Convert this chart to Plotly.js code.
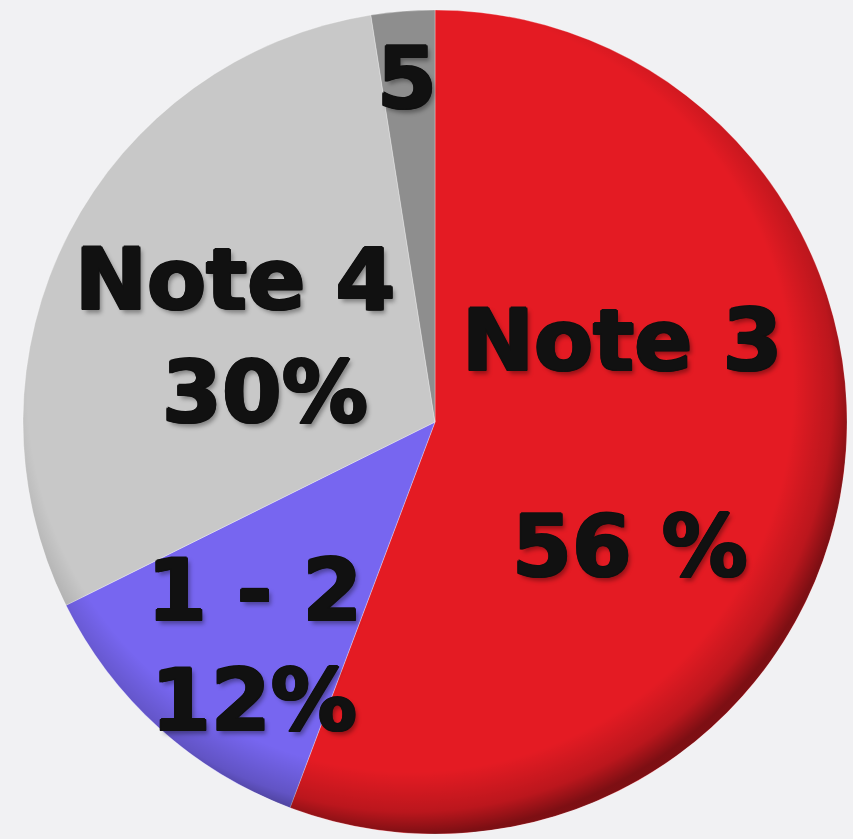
<!DOCTYPE html>
<html>
<head>
<meta charset="utf-8">
<script src="https://cdn.plot.ly/plotly-3.0.1.min.js"></script>
<style>
html,body{margin:0;padding:0;background:#f1f1f3;}
#chart{width:853px;height:839px;}
</style>
</head>
<body>
<div id="chart"></div>
<script>
const categories = ["Note 3", "1 - 2", "Note 4", "5"];
const values = [56, 12, 30, 2.5];
const labelLines = [["Note 3", "56 %"], ["1 - 2", "12%"], ["Note 4", "30%"], ["5"]];
const colors = ["#e41b23", "#7766f0", "#c8c8c8", "#8e8e8e"];

const W = 853, H = 839;
const cx = 435, cy = 422, R = 412;

// label placement (pixel centres) for each text line
const labelPos = [
  [[622, 340], [630, 546]],
  [[254, 590], [254, 700]],
  [[235, 279], [265, 392]],
  [[407, 78]]
];

const heavy = "1.2px 0 0 #111, -1.2px 0 0 #111, 0 1.2px 0 #111, 0 -1px 0 #111, 1.2px 1.2px 0 #111, -1.2px 1.2px 0 #111, 3px 4px 4px rgba(0,0,0,0.35)";

const annotations = [];
labelLines.forEach((lines, i) => {
  lines.forEach((t, j) => {
    const p = labelPos[i][j];
    annotations.push({
      text: t, xref: "paper", yref: "paper",
      x: p[0] / W, y: 1 - p[1] / H,
      xanchor: "center", yanchor: "middle", showarrow: false,
      font: {family: "DejaVu Sans, Roboto, sans-serif", size: 86, weight: "bold", color: "#111",
             shadow: heavy}
    });
  });
});

const trace = {
  type: "pie",
  labels: categories,
  values: values,
  sort: false,
  direction: "clockwise",
  rotation: 0,
  textinfo: "none",
  hoverinfo: "label+percent",
  marker: {colors: colors, line: {color: "rgba(255,255,255,0.3)", width: 1}},
  domain: {x: [(cx - R) / W, (cx + R) / W], y: [(H - cy - R) / H, (H - cy + R) / H]},
  showlegend: false
};

// soft bevel overlay (decorative shading of the disc rim)
const svg = '<svg xmlns="http://www.w3.org/2000/svg" width="824" height="824" viewBox="0 0 824 824">' +
  '<defs><radialGradient id="g" cx="0.47" cy="0.46" r="0.54">' +
  '<stop offset="0.86" stop-color="#000" stop-opacity="0"/>' +
  '<stop offset="0.95" stop-color="#000" stop-opacity="0.18"/>' +
  '<stop offset="1" stop-color="#000" stop-opacity="0.45"/></radialGradient>' +
  '<clipPath id="c"><circle cx="412" cy="412" r="412"/></clipPath></defs>' +
  '<circle cx="412" cy="412" r="412" fill="url(#g)" clip-path="url(#c)"/></svg>';

Plotly.newPlot("chart", [trace], {
  width: W, height: H,
  margin: {l: 0, r: 0, t: 0, b: 0},
  paper_bgcolor: "#f1f1f3",
  showlegend: false,
  annotations: annotations,
  images: [{
    source: "data:image/svg+xml;base64," + btoa(svg),
    xref: "paper", yref: "paper",
    x: (cx - R) / W, y: 1 - (cy - R) / H,
    sizex: 2 * R / W, sizey: 2 * R / H,
    xanchor: "left", yanchor: "top", sizing: "stretch", layer: "above"
  }]
}, {displayModeBar: false, staticPlot: true});
</script>
</body>
</html>
